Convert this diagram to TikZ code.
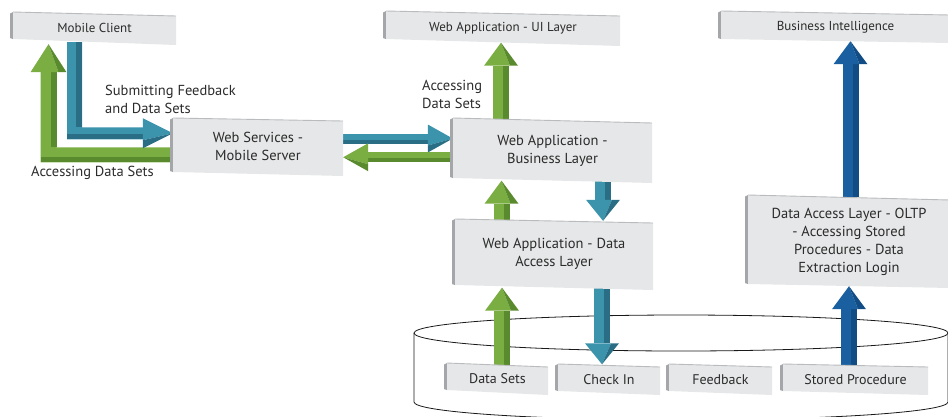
\documentclass[tikz,border=0pt]{standalone}
\usepackage{fontspec}
\setmainfont{PT Sans}
\usetikzlibrary{calc}
\pgfdeclarelayer{bg}
\pgfdeclarelayer{arrowlayer}
\pgfsetlayers{bg,arrowlayer,main}
\definecolor{boxface}{HTML}{E6E7E8}
\definecolor{boxside}{HTML}{A4A6A9}
\definecolor{boxtop}{HTML}{B9BBBD}
\definecolor{txt}{HTML}{2B2B2B}
\definecolor{gL}{HTML}{7AAE43}
\definecolor{gD}{HTML}{5A8A2E}
\definecolor{tL}{HTML}{3B93AC}
\definecolor{tD}{HTML}{2A6E85}
\definecolor{bL}{HTML}{1A60A1}
\definecolor{bD}{HTML}{124C84}
\tikzset{
  boxtext/.style={inner sep=0pt, text=txt, align=center},
  ftop/.style={font=\fontsize{13}{16}\selectfont},
  fmid/.style={font=\fontsize{14.5}{18}\selectfont},
  fsmall/.style={font=\fontsize{14}{16}\selectfont},
  lbl/.style={inner sep=0pt, text=txt, align=left, font=\fontsize{14.5}{18}\selectfont},
  cyl/.style={draw=black!90, line width=0.8pt},
}
% #1 name, #2 x1, #3 y top-left, #4 y top-right, #5 x2, #6 y bottom-left, #7 y bottom-right, #8 font style, #9 text
\newcommand\panel[9]{%
  \fill[boxside] ({#2-3},{#3+1.5}) -- (#2,#3) -- (#2,#6) -- ({#2-3},{#6-1}) -- cycle;
  \fill[boxface] (#2,#3) -- (#5,#4) -- (#5,#7) -- (#2,#6) -- cycle;
  \draw[boxtop, line width=0.9pt] (#2,#3) -- (#5,#4);
  \node[boxtext, #8, minimum width={#5-#2}, minimum height={(#6+#7-#3-#4)/2}] (#1) at ({(#2+#5)/2},{(#3+#4+#6+#7)/4}) {#9};
}
% fat 3D arrows: #1 light, #2 dark, #3 start, #4 tip
\newcommand\arrUp[4]{%
  \coordinate (S) at #3; \coordinate (T) at #4;
  \fill[#1] ($(S-|T)+(-8,0)$) -- ($(T)+(-8,23)$) -- ($(T)+(2,23)$) -- ($(S-|T)+(2,0)$) -- cycle;
  \fill[#2] ($(S-|T)+(2,0)$) -- ($(T)+(2,23)$) -- ($(T)+(8,23)$) -- ($(S-|T)+(8,0)$) -- cycle;
  \fill[#1] ($(T)+(-17,23)$) -- (T) -- ($(T)+(9,23)$) -- cycle;
  \fill[#2] (T) -- ($(T)+(17,23)$) -- ($(T)+(9,23)$) -- cycle;
}
\newcommand\arrDown[4]{%
  \coordinate (S) at #3; \coordinate (T) at #4;
  \fill[#1] ($(S-|T)+(-8,0)$) -- ($(T)+(-8,-21)$) -- ($(T)+(2,-21)$) -- ($(S-|T)+(2,0)$) -- cycle;
  \fill[#2] ($(S-|T)+(2,0)$) -- ($(T)+(2,-21)$) -- ($(T)+(8,-21)$) -- ($(S-|T)+(8,0)$) -- cycle;
  \fill[#1] ($(T)+(-17,-21)$) -- (T) -- ($(T)+(9,-21)$) -- cycle;
  \fill[#2] (T) -- ($(T)+(17,-21)$) -- ($(T)+(9,-21)$) -- cycle;
}
\newcommand\arrRight[4]{%
  \coordinate (S) at #3; \coordinate (T) at #4;
  \fill[#1] ($(S|-T)+(0,-5)$) -- ($(T)+(-25,-5)$) -- ($(T)+(-25,1)$) -- ($(S|-T)+(0,1)$) -- cycle;
  \fill[#2] ($(S|-T)+(0,1)$) -- ($(T)+(-25,1)$) -- ($(T)+(-25,5)$) -- ($(S|-T)+(0,5)$) -- cycle;
  \fill[#1] ($(T)+(-25,-14)$) -- (T) -- ($(T)+(-25,7)$) -- cycle;
  \fill[#2] (T) -- ($(T)+(-25,14)$) -- ($(T)+(-25,7)$) -- cycle;
}
\newcommand\arrLeft[4]{%
  \coordinate (S) at #3; \coordinate (T) at #4;
  \fill[#1] ($(S|-T)+(0,-5)$) -- ($(T)+(25,-5)$) -- ($(T)+(25,1)$) -- ($(S|-T)+(0,1)$) -- cycle;
  \fill[#2] ($(S|-T)+(0,1)$) -- ($(T)+(25,1)$) -- ($(T)+(25,5)$) -- ($(S|-T)+(0,5)$) -- cycle;
  \fill[#1] ($(T)+(25,-14)$) -- (T) -- ($(T)+(25,7)$) -- cycle;
  \fill[#2] (T) -- ($(T)+(25,14)$) -- ($(T)+(25,7)$) -- cycle;
}
\begin{document}
\begin{tikzpicture}[x=1pt,y=-1pt]
\useasboundingbox (0,0) rectangle (948,416);
% database cylinder
\begin{pgfonlayer}{bg}
  \draw[cyl] (681,333) ellipse [x radius=267, y radius=18];
  \draw[cyl] (414,333) -- (414,402) arc[start angle=180, end angle=0, x radius=267, y radius=18] -- (948,333);
\end{pgfonlayer}
% panels
\panel{mc}{13}{12}{16}{176}{39}{45}{ftop}{Mobile Client}
\panel{ui}{386}{11}{16}{620}{39}{46}{ftop}{Web Application - UI Layer}
\panel{bi}{721}{11}{15}{950}{39}{43}{ftop}{Business Intelligence}
\panel{ws}{173}{118}{121}{343}{172}{176}{fmid}{Web Services -\\Mobile Server}
\panel{bl}{453}{118}{123}{652}{178}{183}{fmid}{Web Application -\\Business Layer}
\panel{dal}{455}{219}{223}{653}{285}{290}{fmid}{Web Application - Data\\Access Layer}
\panel{oltp}{748}{195}{200}{950}{284}{288}{fmid}{Data Access Layer - OLTP\\- Accessing Stored\\Procedures - Data\\Extraction Login}
\panel{ds}{447}{363}{367}{548}{390}{395}{fsmall}{Data Sets}
\panel{ci}{558}{364}{367}{660}{391}{395}{fsmall}{Check In}
\panel{fb}{669}{364}{367}{772}{391}{395}{fsmall}{Feedback}
\panel{sp}{783}{364}{367}{928}{391}{395}{fsmall}{Stored Procedure}
% labels
\node[lbl, anchor=west] (lsub) at (105,99) {Submitting Feedback\\and Data Sets};
\node[lbl, anchor=west] (lacc) at (31,173) {Accessing Data Sets};
\node[lbl, anchor=west] (lacc2) at (422,94) {Accessing\\Data Sets};
% arrows
\begin{pgfonlayer}{arrowlayer}
  % green L: Web Services -> Mobile Client
  \coordinate (gTip) at ($(mc.south)+(-46,2)$);
  \coordinate (gEnd) at ($(ws.west)+(0,8)$);
  \coordinate (gC) at (gTip |- gEnd);
  \fill[gL] ($(gEnd)+(0,-7.5)$) -- ($(gC)+(8,-7.5)$) -- ($(gTip)+(8,28)$) -- ($(gTip)+(-8,28)$) -- ($(gC)+(-8,7.5)$) -- ($(gEnd)+(0,7.5)$) -- cycle;
  \fill[gD] ($(gTip)+(2,28)$) -- ($(gTip)+(8,28)$) -- ($(gC)+(8,-7.5)$) -- ($(gC)+(2,-7.5)$) -- cycle;
  \fill[gD] ($(gC)+(-8,2.5)$) -- ($(gEnd)+(0,2.5)$) -- ($(gEnd)+(0,7.5)$) -- ($(gC)+(-8,7.5)$) -- cycle;
  \fill[gL] ($(gTip)+(-18,28)$) -- (gTip) -- ($(gTip)+(10,28)$) -- cycle;
  \fill[gD] (gTip) -- ($(gTip)+(18,28)$) -- ($(gTip)+(10,28)$) -- cycle;
  % teal L: Mobile Client -> Web Services
  \coordinate (tS) at ($(mc.south)+(-20,0)$);
  \coordinate (tT) at ($(ws.west)+(0,-13.5)$);
  \coordinate (tC) at (tS |- tT);
  \fill[tL] ($(tS)+(-7.5,0)$) -- ($(tS)+(7.5,0)$) -- ($(tC)+(7.5,-6)$) -- ($(tT)+(-30,-6)$) -- ($(tT)+(-30,6)$) -- ($(tC)+(-7.5,6)$) -- cycle;
  \fill[tD] ($(tS)+(1.5,0)$) -- ($(tS)+(7.5,0)$) -- ($(tC)+(7.5,-6)$) -- ($(tC)+(1.5,-6)$) -- cycle;
  \fill[tD] ($(tC)+(-7.5,1)$) -- ($(tT)+(-30,1)$) -- ($(tT)+(-30,6)$) -- ($(tC)+(-7.5,6)$) -- cycle;
  \fill[tL] ($(tT)+(-30,-15)$) -- (tT) -- ($(tT)+(-30,7)$) -- cycle;
  \fill[tD] (tT) -- ($(tT)+(-30,15)$) -- ($(tT)+(-30,7)$) -- cycle;
  % straight arrows
  \arrRight{tL}{tD}{($(ws.east)+(0,-8)$)}{($(bl.west)+(0,-12)$)}
  \arrLeft{gL}{gD}{($(bl.west)+(0,10)$)}{($(ws.east)+(0,10.5)$)}
  \arrUp{gL}{gD}{(bl.north)}{($(ui.south)+(-2,0)$)}
  \arrUp{gL}{gD}{(dal.north)}{($(bl.south)+(-51,0)$)}
  \arrDown{tL}{tD}{(bl.south)}{($(dal.north)+(49,0)$)}
  \arrUp{gL}{gD}{(ds.north)}{($(dal.south)+(-52,0)$)}
  \arrDown{tL}{tD}{(dal.south)}{($(ci.north)+(-7,-1)$)}
  \arrUp{bL}{bD}{(oltp.north)}{($(bi.south)+(15,0)$)}
  \arrUp{bL}{bD}{(sp.north)}{(oltp.south)}
\end{pgfonlayer}
\end{tikzpicture}
\end{document}
